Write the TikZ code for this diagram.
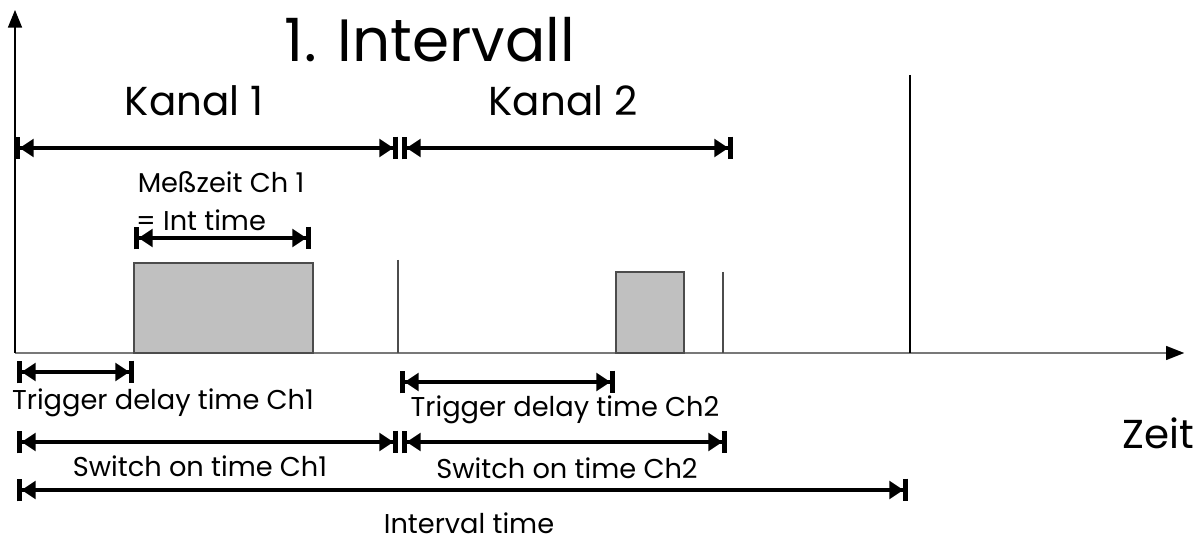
\documentclass[tikz,border=0pt]{standalone}
\usepackage{fontspec}
\setmainfont{Poppins}
\usetikzlibrary{arrows.meta, positioning}
\definecolor{pulsegray}{RGB}{192,192,192}
\definecolor{axisgray}{RGB}{120,120,120}

\begin{document}
\begin{tikzpicture}[
        x=0.02cm, y=-0.02cm,
        dim/.style={{Bar[width=13pt,line width=2.6pt]Triangle[length=8pt,width=10pt]}-{Triangle[length=8pt,width=10pt]Bar[width=13pt,line width=2.6pt]}, line width=2pt},
        axis/.style={-{Triangle[length=10pt,width=8pt]}, line width=0.7pt},
        marker/.style={line width=0.6pt},
        pulse/.style={draw=black!70, fill=pulsegray, line width=0.6pt},
        lbl/.style={font=\fontsize{15.5}{18}\selectfont, inner sep=0pt, anchor=base},
        head/.style={font=\fontsize{23}{26}\selectfont, inner sep=0pt, anchor=base}
    ]
    \useasboundingbox (0,0) rectangle (1201,543);

    % time axis and signal axis
    \coordinate (o) at (15,353);
    \coordinate (xend) at (1184,353);
    \coordinate (yend) at (15,10);
    \draw[axis, draw=axisgray] (o) -- (xend);
    \fill (xend) -- ++(-18,-7) -- ++(0,14) -- cycle;
    \draw[axis] (o) -- (yend);

    % measuring windows
    \draw[pulse] (134,263) rectangle (313,353);
    \draw[pulse] (616,272) rectangle (684,353);
    \draw[marker, black!70] (398,260) -- (398,353);
    \draw[marker, black!70] (723,272) -- (723,353);
    \draw[marker] (910,75) -- (910,353);

    % headings
    \node[font=\fontsize{34}{38}\selectfont, inner sep=0pt, anchor=base] (title) at (430,62) {1. Intervall};
    \node[head] (kanalA) at (194,116) {Kanal 1};
    \node[head] (kanalB) at (563,116) {Kanal 2};
    \node[head] (zeit) at (1158,449) {Zeit};

    % channel spans
    \coordinate (k1a) at (15,148);
    \coordinate (k1b) at (398,148);
    \coordinate (k2a) at (402,148);
    \coordinate (k2b) at (733,148);
    \draw[dim] (k1a) -- (k1b);
    \draw[dim] (k2a) -- (k2b);

    % integration time
    \node[lbl] (mess) at (221,193) {Meßzeit Ch 1};
    \node[lbl] (inttime) at (201,231) {= Int time};
    \coordinate (m1) at (134,238);
    \coordinate (m2) at (311,238);
    \draw[dim] (m1) -- (m2);

    % trigger delays
    \coordinate (d1a) at (17,372);
    \coordinate (d1b) at (134,372);
    \draw[dim] (d1a) -- (d1b);
    \node[lbl] (trigA) at (163,410) {Trigger delay time Ch1};
    \coordinate (d2a) at (400,382);
    \coordinate (d2b) at (615,382);
    \draw[dim] (d2a) -- (d2b);
    \node[lbl] (trigB) at (565,417) {Trigger delay time Ch2};

    % switch on times
    \coordinate (s1a) at (17,442);
    \coordinate (s1b) at (398,442);
    \coordinate (s2a) at (402,442);
    \coordinate (s2b) at (727,442);
    \draw[dim] (s1a) -- (s1b);
    \draw[dim] (s2a) -- (s2b);
    \node[lbl] (switchA) at (200,477) {Switch on time Ch1};
    \node[lbl] (switchB) at (567,479) {Switch on time Ch2};

    % whole interval
    \coordinate (iva) at (17,490);
    \coordinate (ivb) at (908,490);
    \draw[dim] (iva) -- (ivb);
    \node[lbl] (interval) at (469,534) {Interval time};
\end{tikzpicture}
\end{document}
